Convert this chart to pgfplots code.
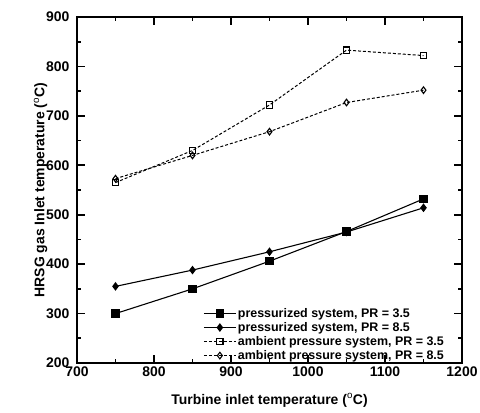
\documentclass[border=0pt]{standalone}
\usepackage{fontspec}
\setmainfont{Liberation Sans}
\usepackage{pgfplots}
\pgfplotsset{compat=1.18}
\begin{document}
\begin{tikzpicture}[x=1bp,y=1bp]
\useasboundingbox (-77,-49) rectangle (403,363);
\begin{axis}[
  scale only axis, width=385bp, height=346bp,
  at={(0,0)}, anchor=south west,
  xmin=700, xmax=1200, ymin=200, ymax=900,
  xtick={700,800,...,1200}, ytick={200,300,...,900},
  minor x tick num=1, minor y tick num=1,
  tick align=inside, tick pos=both,
  major tick length=8bp, minor tick length=4bp,
  axis line style={line width=2bp},
  every tick/.style={line width=1.8bp, black},
  tick label style={font=\fontsize{14}{16}\selectfont\bfseries},
  xticklabel style={yshift=-0.5bp},
  yticklabel style={xshift=-4bp},
  /pgf/number format/assume math mode=true,
  /pgf/number format/1000 sep={},
  xlabel={\fontsize{14}{16}\selectfont\bfseries Turbine inlet temperature ($^{\mathrm{o}}$C)},
  ylabel={\fontsize{14}{16}\selectfont\bfseries HRSG gas Inlet temperature ($^{\mathrm{o}}$C)},
  xlabel style={yshift=-10bp},
  ylabel style={yshift=-8bp},
  legend style={draw=none, fill=none, at={(0.965,-0.003)}, anchor=south east,
    font=\fontsize{12.5}{14}\selectfont\bfseries, row sep=1.5bp,
    nodes={inner xsep=1.5bp, inner ysep=1bp}},
  legend cell align=left,
  legend image code/.code={\draw[mark repeat=2,mark phase=2] plot coordinates {(0bp,0bp) (16bp,0bp) (32bp,0bp)};},
]
\addplot[black, line width=1.1pt, mark=square*, mark size=3.7bp, mark options={solid}]
  coordinates {(750,300) (850,350) (950,406) (1050,466) (1150,532)};
\addlegendentry{pressurized system, PR = 3.5}
\addplot[black, line width=1.1pt, mark=diamond*, mark size=3.5bp, mark options={solid}]
  coordinates {(750,355) (850,388) (950,425) (1050,465) (1150,514)};
\addlegendentry{pressurized system, PR = 8.5}
\addplot[black, line width=1pt, dash pattern=on 3pt off 2pt, mark=square, mark size=3.2bp, mark options={solid, line width=1.3pt, fill=white}]
  coordinates {(750,565) (850,630) (950,722) (1050,833) (1150,822)};
\addlegendentry{ambient pressure system, PR = 3.5}
\addplot[black, line width=1pt, dash pattern=on 3pt off 2pt, mark=diamond, mark size=3.3bp, mark options={solid, line width=1.1pt, fill=white}]
  coordinates {(750,573) (850,620) (950,668) (1050,727) (1150,752)};
\addlegendentry{ambient pressure system, PR = 8.5}
\end{axis}
\end{tikzpicture}
\end{document}
